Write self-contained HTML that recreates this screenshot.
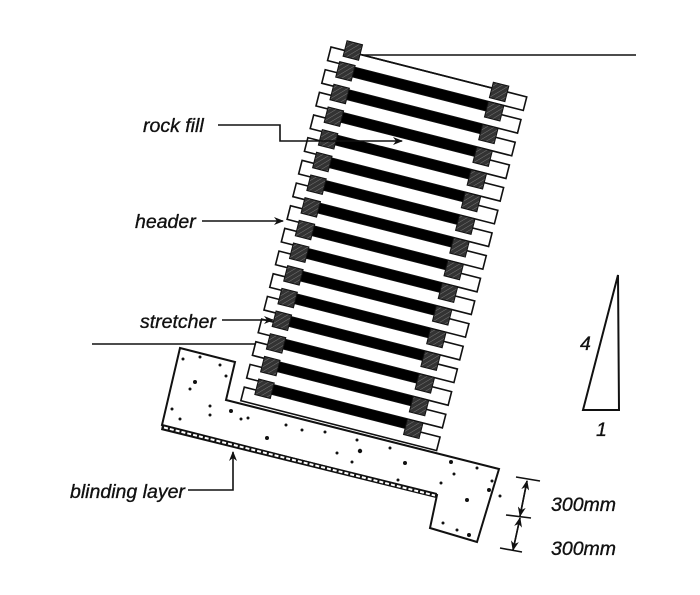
<!DOCTYPE html>
<html><head><meta charset="utf-8"><style>
html,body{margin:0;padding:0;background:#fff;}
svg{display:block;}
text{font-family:"Liberation Sans",sans-serif;font-style:italic;font-size:19.5px;fill:#111;stroke:#111;stroke-width:0.35;}
</style></head><body>
<svg width="700" height="595" viewBox="0 0 700 595" xmlns="http://www.w3.org/2000/svg">
<defs>
<pattern id="hat" width="4" height="4" patternUnits="userSpaceOnUse" patternTransform="rotate(45)">
<rect width="4" height="4" fill="#333"/><line x1="0" y1="0" x2="0" y2="4" stroke="#777" stroke-width="1"/>
</pattern>
<marker id="ar" markerWidth="10" markerHeight="8" refX="9" refY="4" orient="auto" markerUnits="userSpaceOnUse">
<path d="M0,0 L10,4 L0,8 L3,4 Z" fill="#111"/>
</marker>
</defs>

<polygon points="180,348 235,362 226,400 499,469 477,542 430,528 437,495 162,425" fill="#fff" stroke="#111" stroke-width="2"/>
<polygon points="162,425 437,493 436,498 161,430" fill="#111"/>
<line x1="164" y1="427.5" x2="435" y2="495.5" stroke="#fff" stroke-width="2" stroke-dasharray="4,2"/>
<g fill="#111">
<circle cx="183" cy="359" r="1.5"/><circle cx="200" cy="357" r="1.5"/><circle cx="220" cy="365" r="1.5"/>
<circle cx="195" cy="382" r="2"/><circle cx="190" cy="389" r="1.5"/><circle cx="226" cy="376" r="1.5"/>
<circle cx="172" cy="409" r="1.5"/><circle cx="180" cy="419" r="1.5"/><circle cx="210" cy="406" r="1.5"/>
<circle cx="231" cy="411" r="2"/><circle cx="210" cy="415" r="1.5"/><circle cx="241" cy="419" r="1.5"/>
<circle cx="248" cy="418" r="1.5"/><circle cx="286" cy="425" r="1.5"/><circle cx="302" cy="430" r="1.5"/>
<circle cx="267" cy="438" r="2"/><circle cx="325" cy="432" r="1.5"/><circle cx="357" cy="440" r="1.5"/>
<circle cx="360" cy="451" r="2.2"/><circle cx="390" cy="448" r="1.5"/><circle cx="337" cy="453" r="1.5"/>
<circle cx="352" cy="462" r="1.5"/><circle cx="405" cy="463" r="2"/><circle cx="398" cy="480" r="1.5"/>
<circle cx="451" cy="462" r="2"/><circle cx="454" cy="474" r="1.5"/><circle cx="477" cy="468" r="1.5"/>
<circle cx="441" cy="483" r="1.5"/><circle cx="492" cy="481" r="1.5"/><circle cx="489" cy="490" r="2"/>
<circle cx="467" cy="500" r="2"/><circle cx="443" cy="523" r="1.5"/><circle cx="457" cy="530" r="1.5"/>
<circle cx="469" cy="535" r="2"/><circle cx="500" cy="496" r="1.5"/>
</g>

<g transform="translate(331,47) rotate(14.3)">
<g stroke="#111" stroke-width="1.6">
<rect x="0" y="0" width="202" height="14" fill="#fff"/>
<rect x="0" y="23.4" width="202" height="14" fill="#fff"/>
<rect x="0" y="46.8" width="202" height="14" fill="#fff"/>
<rect x="0" y="70.2" width="202" height="14" fill="#fff"/>
<rect x="0" y="93.6" width="202" height="14" fill="#fff"/>
<rect x="0" y="117" width="202" height="14" fill="#fff"/>
<rect x="0" y="140.4" width="202" height="14" fill="#fff"/>
<rect x="0" y="163.8" width="202" height="14" fill="#fff"/>
<rect x="0" y="187.2" width="202" height="14" fill="#fff"/>
<rect x="0" y="210.6" width="202" height="14" fill="#fff"/>
<rect x="0" y="234" width="202" height="14" fill="#fff"/>
<rect x="0" y="257.4" width="202" height="14" fill="#fff"/>
<rect x="0" y="280.8" width="202" height="14" fill="#fff"/>
<rect x="0" y="304.2" width="202" height="14" fill="#fff"/>
<rect x="0" y="327.6" width="202" height="14" fill="#fff"/>
<rect x="0" y="351" width="202" height="14" fill="#fff"/>
</g>
<g fill="#000">
<rect x="24" y="14" width="150" height="9.4"/><rect x="24" y="37.4" width="150" height="9.4"/>
<rect x="24" y="60.8" width="150" height="9.4"/><rect x="24" y="84.2" width="150" height="9.4"/>
<rect x="24" y="107.6" width="150" height="9.4"/><rect x="24" y="131" width="150" height="9.4"/>
<rect x="24" y="154.4" width="150" height="9.4"/><rect x="24" y="177.8" width="150" height="9.4"/>
<rect x="24" y="201.2" width="150" height="9.4"/><rect x="24" y="224.6" width="150" height="9.4"/>
<rect x="24" y="248" width="150" height="9.4"/><rect x="24" y="271.4" width="150" height="9.4"/>
<rect x="24" y="294.8" width="150" height="9.4"/><rect x="24" y="318.2" width="150" height="9.4"/>
<rect x="24" y="341.6" width="150" height="9.4"/>
</g>
<g fill="url(#hat)" stroke="#111" stroke-width="1">
<rect x="14" y="-10" width="16" height="16"/><rect x="166" y="-6" width="16" height="16"/>
<rect x="12" y="12" width="16" height="16"/><rect x="166" y="14" width="16" height="16"/>
<rect x="12" y="35.4" width="16" height="16"/><rect x="166" y="37.4" width="16" height="16"/>
<rect x="12" y="58.8" width="16" height="16"/><rect x="166" y="60.8" width="16" height="16"/>
<rect x="12" y="82.2" width="16" height="16"/><rect x="166" y="84.2" width="16" height="16"/>
<rect x="12" y="105.6" width="16" height="16"/><rect x="166" y="107.6" width="16" height="16"/>
<rect x="12" y="129" width="16" height="16"/><rect x="166" y="131" width="16" height="16"/>
<rect x="12" y="152.4" width="16" height="16"/><rect x="166" y="154.4" width="16" height="16"/>
<rect x="12" y="175.8" width="16" height="16"/><rect x="166" y="177.8" width="16" height="16"/>
<rect x="12" y="199.2" width="16" height="16"/><rect x="166" y="201.2" width="16" height="16"/>
<rect x="12" y="222.6" width="16" height="16"/><rect x="166" y="224.6" width="16" height="16"/>
<rect x="12" y="246" width="16" height="16"/><rect x="166" y="248" width="16" height="16"/>
<rect x="12" y="269.4" width="16" height="16"/><rect x="166" y="271.4" width="16" height="16"/>
<rect x="12" y="292.8" width="16" height="16"/><rect x="166" y="294.8" width="16" height="16"/>
<rect x="12" y="316.2" width="16" height="16"/><rect x="166" y="318.2" width="16" height="16"/>
<rect x="12" y="339.6" width="16" height="16"/><rect x="166" y="341.6" width="16" height="16"/>
</g>
<line x1="30" y1="0" x2="166" y2="0" stroke="#111" stroke-width="1.6"/>
</g>

<line x1="362" y1="55" x2="636" y2="55" stroke="#111" stroke-width="1.6"/>
<line x1="92" y1="344" x2="256" y2="344" stroke="#111" stroke-width="1.6"/>

<text x="143" y="132">rock fill</text>
<polyline points="218,125 280,125 280,141 402,141" fill="none" stroke="#111" stroke-width="1.6" marker-end="url(#ar)"/>
<text x="135" y="228">header</text>
<line x1="202" y1="221" x2="283" y2="221" stroke="#111" stroke-width="1.6" marker-end="url(#ar)"/>
<text x="140" y="328">stretcher</text>
<line x1="222" y1="320" x2="273" y2="320" stroke="#111" stroke-width="1.6" marker-end="url(#ar)"/>
<text x="70" y="498">blinding layer</text>
<polyline points="188,490 233,490 233,452" fill="none" stroke="#111" stroke-width="1.6" marker-end="url(#ar)"/>

<g stroke="#111" stroke-width="1.6">
<line x1="516" y1="477" x2="540" y2="481"/>
<line x1="506" y1="515" x2="531" y2="518"/>
<line x1="500" y1="548" x2="522" y2="552"/>
<line x1="527" y1="481" x2="520" y2="516" marker-end="url(#ar)"/>
<line x1="520" y1="516" x2="527" y2="481" marker-end="url(#ar)"/>
<line x1="520" y1="518" x2="513" y2="550" marker-end="url(#ar)"/>
<line x1="513" y1="550" x2="520" y2="518" marker-end="url(#ar)"/>
</g>
<text x="551" y="511">300mm</text>
<text x="551" y="555">300mm</text>

<polygon points="618,275 619,410 583,410" fill="none" stroke="#111" stroke-width="2"/>
<text x="580" y="350">4</text>
<text x="596" y="436">1</text>
</svg>
</body></html>
